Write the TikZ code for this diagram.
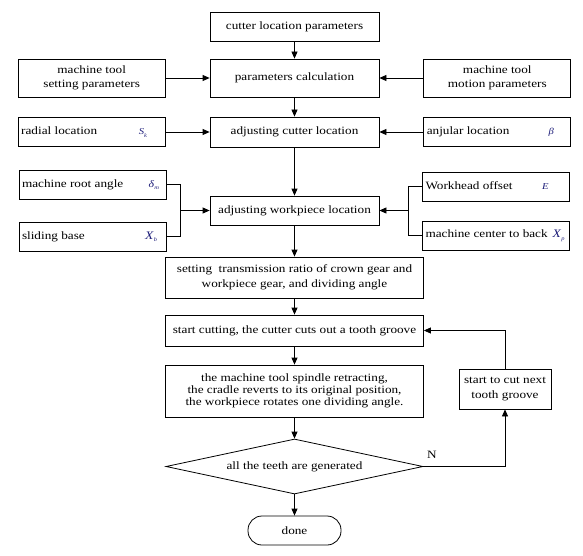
\documentclass[tikz,border=0pt]{standalone}
\usepackage{fontspec}
\setmainfont{Liberation Serif}[FakeStretch=1.18]
\usetikzlibrary{arrows.meta,positioning,shapes.geometric}
\definecolor{symc}{RGB}{28,28,120}
\newcommand{\parsym}[3][9]{{\color{symc}\fontsize{#1}{#1}\selectfont\textit{#2}\raisebox{-2.5pt}{\fontsize{5.5}{5.5}\selectfont\textit{#3}}}}
\newcommand{\rowtxt}[2]{\makebox[141pt]{#1\hfill#2}}

\begin{document}
\begin{tikzpicture}[x=1pt,y=-1pt,node distance=44pt,line width=0.8pt]
\useasboundingbox (0,0) rectangle (583,556);
\tikzstyle{B}=[draw,minimum height=29pt,align=center,inner sep=2pt,
font=\fontsize{11.2}{14}\selectfont]
\tikzstyle{C}=[B,minimum width=169pt]
\tikzstyle{W}=[B,minimum width=258pt]
\tikzstyle{S}=[B,inner xsep=3pt,minimum height=29pt]
\tikzstyle{A}=[-{Triangle[length=7pt,width=6pt]}]
\node[C] (cl) at (294.5,26.5) {cutter location parameters};
\node[C,minimum height=38pt] (pc) at (294.5,78) {parameters calculation};
\node[B,minimum width=147pt,minimum height=38pt,left=of pc] (set) {machine tool\\setting parameters};
\node[B,minimum width=147pt,minimum height=38pt,right=of pc] (mot) {machine tool\\motion parameters};
\node[C,minimum height=30pt] (acl) at (294.5,132) {adjusting cutter location};
\node[S,left=of acl] (rad) {\rowtxt{radial location}{\parsym{S}{k}\hspace{15pt}}};
\node[S,right=of acl] (ang) {\rowtxt{anjular location}{\parsym{β}{}\hspace{14pt}}};
\node[C] (awl) at (294.5,210.5) {adjusting workpiece location};
\node[S] (root) at (92.5,184.5) {\rowtxt{machine root angle}{\parsym[10]{δ}{m}\hspace{4pt}}};
\node[S] (slb) at (92.5,236.5) {\rowtxt{sliding base}{\parsym[11.5]{X}{b}\hspace{6pt}}};
\node[S] (wh) at (496,186.5) {\rowtxt{Workhead offset}{\parsym{E}{}\hspace{18pt}}};
\node[S] (mcb) at (496,235.5) {\rowtxt{machine center to back}{\parsym[11.5]{X}{p}\hspace{2pt}}};
\coordinate (lj) at (180,210.5);
\coordinate (rj) at (408,210.5);
\node[W,minimum height=41pt,font=\fontsize{11.2}{15.5}\selectfont] (tr) at (294.5,277.5) {setting\ \ transmission ratio of crown gear and\\workpiece gear, and dividing angle};
\node[W,minimum height=31pt] (sc) at (294.5,330.5) {start cutting, the cutter cuts out a tooth groove};
\node[W,minimum height=52pt,font=\fontsize{11.2}{12}\selectfont] (sp) at (294.5,391) {the machine tool spindle retracting,\\the cradle reverts to its original position,\\the workpiece rotates one dividing angle.};
\node[B,diamond,aspect=4.67,minimum width=257pt,minimum height=55pt,inner sep=0pt] (dm) at (294.5,466.5) {all the teeth are generated};
\node[B,rounded corners=14pt,minimum width=93pt] (done) at (294.5,530.5) {done};
\node[B,minimum width=92pt,minimum height=40pt,font=\fontsize{11.2}{15.5}\selectfont] (nx) at (505,389) {start to cut next\\tooth groove};
\draw[A] (cl)--(pc);
\draw[A] (set)--(pc);
\draw[A] (mot)--(pc);
\draw[A] (pc)--(acl);
\draw[A] (rad)--(acl);
\draw[A] (ang)--(acl);
\draw[A] (acl)--(awl);
\draw (root.east)-|(lj);
\draw (slb.east)-|(lj);
\draw[A] (lj)--(awl);
\draw (wh.west)-|(rj);
\draw (mcb.west)-|(rj);
\draw[A] (rj)--(awl);
\draw[A] (awl)--(tr);
\draw[A] (tr)--(sc);
\draw[A] (sc)--(sp);
\draw[A] (sp)--(dm);
\draw[A] (dm)--(done);
\draw[A] (dm.east)-|node[pos=0,above right,yshift=4pt,font=\fontsize{11.2}{14}\selectfont]{N}(nx.south);
\draw[A] (nx.north)|-(sc.east);
\end{tikzpicture}
\end{document}
